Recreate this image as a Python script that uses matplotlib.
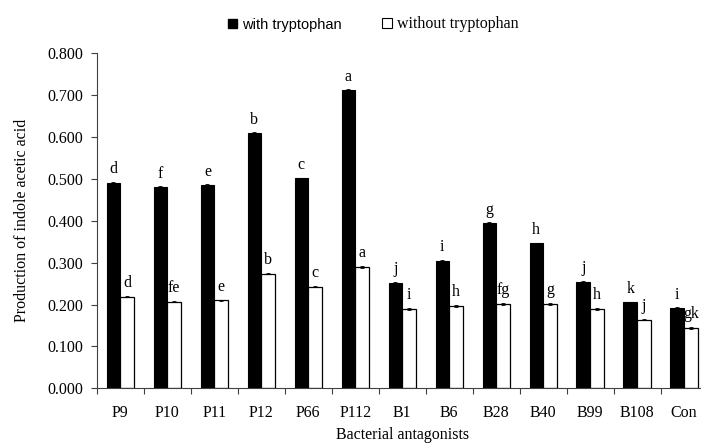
import matplotlib
matplotlib.use("Agg")
import matplotlib.pyplot as plt
import numpy as np
from matplotlib.patches import Patch
from matplotlib.ticker import FormatStrFormatter, FixedLocator

categories = ["P9", "P10", "P11", "P12", "P66", "P112", "B1", "B6", "B28", "B40", "B99", "B108", "Con"]
with_trp = [0.491, 0.480, 0.485, 0.609, 0.501, 0.712, 0.252, 0.305, 0.394, 0.346, 0.255, 0.205, 0.191]
without_trp = [0.219, 0.207, 0.210, 0.274, 0.243, 0.290, 0.190, 0.197, 0.202, 0.202, 0.190, 0.164, 0.144]
with_err = [0.002] * 13
without_err = [0.002] * 13
letters_with = ["d", "f", "e", "b", "c", "a", "j", "i", "g", "h", "j", "k", "i"]
letters_without = ["d", "fe", "e", "b", "c", "a", "i", "h", "fg", "g", "h", "j", "gk"]

serif = "Liberation Serif"
sans = "Liberation Sans"
FS = 11.5

fig = plt.figure(figsize=(7.01, 4.46), dpi=100)
ax = fig.add_axes([0.138, 0.1294, 1.0094 - 0.138, 0.8805 - 0.1294])

x = np.arange(len(categories))
w = 0.29
ax.bar(x - w / 2, with_trp, w, color="black", edgecolor="black", linewidth=0.8,
       yerr=with_err, error_kw=dict(ecolor="black", elinewidth=0.6, capsize=1.5, capthick=0.6))
ax.bar(x + w / 2, without_trp, w, color="white", edgecolor="black", linewidth=0.9,
       yerr=without_err, error_kw=dict(ecolor="black", elinewidth=0.6, capsize=1.5, capthick=0.6))

for i in range(len(categories)):
    ax.annotate(letters_with[i], (x[i] - w / 2, with_trp[i]), xytext=(0, 4),
                textcoords="offset points", ha="center", va="bottom",
                fontsize=FS, family=serif, annotation_clip=False)
    ax.annotate(letters_without[i], (x[i] + w / 2, without_trp[i]), xytext=(0, 4),
                textcoords="offset points", ha="center", va="bottom",
                fontsize=FS, family=serif, annotation_clip=False)

ax.set_xlim(-0.5, len(categories) - 0.5)
ax.set_ylim(0, 0.8)
ax.set_yticks(np.arange(0, 0.81, 0.1))
ax.yaxis.set_major_formatter(FormatStrFormatter("%.3f"))
ax.set_xticks(x)
ax.set_xticklabels(categories)
ax.tick_params(axis="x", which="major", length=0, pad=12)
ax.xaxis.set_minor_locator(FixedLocator(np.arange(-0.5, len(categories), 1.0)))
ax.tick_params(axis="x", which="minor", length=4, width=0.8, direction="out", color="#404040")
ax.tick_params(axis="y", length=4, width=0.8, direction="out", pad=6, color="#404040")
for lab in ax.get_xticklabels() + ax.get_yticklabels():
    lab.set_family(serif)
    lab.set_fontsize(FS)

for s in ["top", "right"]:
    ax.spines[s].set_visible(False)
for s in ["left", "bottom"]:
    ax.spines[s].set_linewidth(0.8)
    ax.spines[s].set_color("#404040")

ax.set_xlabel("Bacterial antagonists", family=serif, fontsize=FS, labelpad=4)
ax.set_ylabel("Production of indole acetic acid", family=serif, fontsize=FS, labelpad=12)

leg1 = fig.legend([Patch(facecolor="black", edgecolor="black")], ["with tryptophan"],
                  loc="center left", bbox_to_anchor=(228 / 701, 1 - 24.5 / 446),
                  frameon=False, borderpad=0, borderaxespad=0,
                  handlelength=0.6, handleheight=0.6, handletextpad=0.35,
                  prop=dict(family=sans, size=10.5))
leg2 = fig.legend([Patch(facecolor="white", edgecolor="black", linewidth=0.8)], ["without tryptophan"],
                  loc="center left", bbox_to_anchor=(382 / 701, 1 - 24.5 / 446),
                  frameon=False, borderpad=0, borderaxespad=0,
                  handlelength=0.6, handleheight=0.6, handletextpad=0.35,
                  prop=dict(family=serif, size=FS))

fig.savefig("out.png", dpi=100)
